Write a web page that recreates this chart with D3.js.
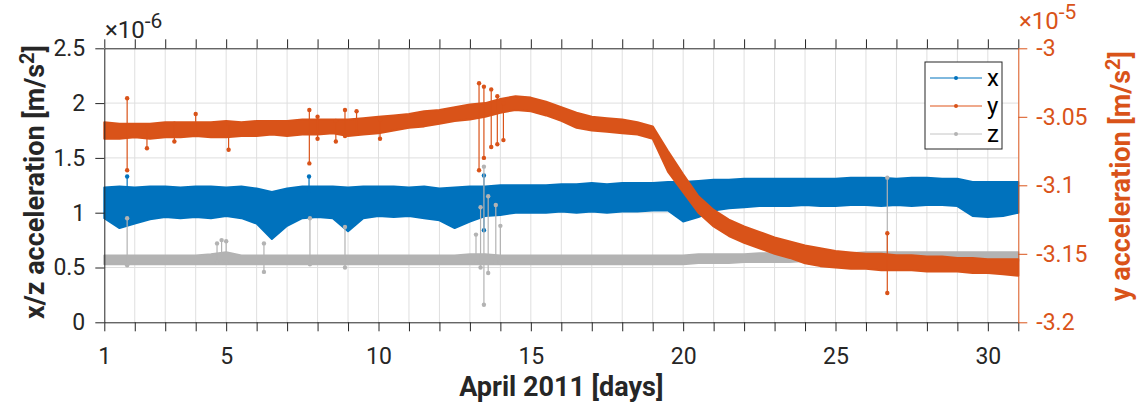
<!DOCTYPE html>
<html><head><meta charset="utf-8">
<script src="https://cdn.jsdelivr.net/npm/d3@7"></script>
<style>body{margin:0;background:#fff} svg{font-family:Roboto, "Noto Sans", sans-serif}</style>
</head><body>
<svg id="c" width="1137" height="403"></svg>
<script>
// ---- data ----
const days = [1,1.5,2,2.5,3,3.5,4,4.5,5,5.5,6,6.5,7,7.5,8,8.5,9,9.5,10,10.5,11,11.5,12,12.5,13,13.5,14,14.5,15,15.5,16,16.5,17,17.5,18,18.5,19,19.5,20,20.5,21,21.5,22,22.5,23,23.5,24,24.5,25,25.5,26,26.5,27,27.5,28,28.5,29,29.5,30,30.5,31];
// x acceleration band (x1e-6)
const xHi = [1.23,1.24,1.23,1.24,1.24,1.23,1.24,1.24,1.23,1.24,1.22,1.19,1.22,1.24,1.24,1.24,1.23,1.24,1.24,1.24,1.23,1.24,1.22,1.23,1.24,1.24,1.25,1.25,1.25,1.25,1.26,1.26,1.27,1.26,1.27,1.27,1.27,1.28,1.28,1.29,1.30,1.30,1.31,1.31,1.31,1.31,1.31,1.31,1.31,1.32,1.32,1.32,1.31,1.32,1.32,1.31,1.31,1.28,1.28,1.28,1.28];
const xLo = [0.95,0.86,0.90,0.94,0.96,0.95,0.96,0.95,0.97,0.95,0.90,0.76,0.88,0.95,0.96,0.95,0.83,0.95,0.97,0.96,0.97,0.95,0.93,0.86,0.92,0.97,0.98,1.00,1.00,1.00,1.01,1.00,1.01,1.00,1.01,1.01,1.02,1.02,0.92,0.96,1.02,1.04,1.05,1.06,1.06,1.06,1.07,1.06,1.06,1.07,1.07,1.06,1.07,1.06,1.07,1.07,1.06,0.97,0.96,0.97,1.00];
// y acceleration band (x1e-5)
const yHi = [-3.054,-3.055,-3.055,-3.055,-3.054,-3.054,-3.054,-3.054,-3.053,-3.054,-3.053,-3.053,-3.053,-3.052,-3.052,-3.052,-3.052,-3.051,-3.050,-3.049,-3.048,-3.046,-3.045,-3.043,-3.041,-3.040,-3.037,-3.035,-3.036,-3.039,-3.043,-3.047,-3.050,-3.051,-3.052,-3.054,-3.057,-3.075,-3.092,-3.108,-3.118,-3.125,-3.130,-3.134,-3.138,-3.141,-3.144,-3.146,-3.148,-3.149,-3.150,-3.150,-3.151,-3.151,-3.152,-3.152,-3.153,-3.153,-3.154,-3.154,-3.154];
const yLo = [-3.066,-3.066,-3.065,-3.066,-3.065,-3.065,-3.064,-3.065,-3.065,-3.064,-3.064,-3.063,-3.064,-3.063,-3.063,-3.062,-3.064,-3.063,-3.062,-3.060,-3.058,-3.057,-3.055,-3.053,-3.052,-3.050,-3.047,-3.045,-3.046,-3.049,-3.053,-3.058,-3.060,-3.061,-3.062,-3.063,-3.066,-3.090,-3.105,-3.120,-3.130,-3.137,-3.142,-3.146,-3.150,-3.153,-3.157,-3.159,-3.160,-3.161,-3.161,-3.162,-3.162,-3.162,-3.163,-3.163,-3.163,-3.164,-3.164,-3.165,-3.166];
// z acceleration band (x1e-6)
const zHi = [0.61,0.61,0.61,0.61,0.61,0.61,0.61,0.62,0.64,0.61,0.61,0.61,0.61,0.61,0.61,0.61,0.61,0.61,0.61,0.61,0.61,0.61,0.61,0.61,0.62,0.62,0.61,0.61,0.61,0.61,0.61,0.61,0.61,0.61,0.61,0.61,0.61,0.61,0.61,0.62,0.62,0.62,0.62,0.63,0.63,0.63,0.63,0.63,0.63,0.63,0.64,0.64,0.64,0.64,0.64,0.64,0.64,0.64,0.64,0.64,0.64];
const zLo = [0.53,0.53,0.53,0.53,0.53,0.53,0.53,0.53,0.53,0.53,0.53,0.53,0.53,0.53,0.53,0.53,0.53,0.53,0.53,0.53,0.53,0.53,0.53,0.53,0.53,0.53,0.53,0.53,0.53,0.53,0.53,0.53,0.53,0.53,0.53,0.53,0.53,0.53,0.53,0.54,0.54,0.54,0.55,0.55,0.55,0.55,0.56,0.56,0.56,0.56,0.56,0.56,0.56,0.56,0.56,0.56,0.56,0.56,0.56,0.56,0.56];
// isolated outliers: day, low, high
const xSpikeDay = [1.75,7.72,13.46];
const xSpikeLo  = [1.20,1.20,0.84];
const xSpikeHi  = [1.33,1.33,1.34];
const ySpikeDay = [1.75,2.4,3.3,4.0,5.08,7.73,8.0,8.6,8.9,9.28,10.05,13.3,13.46,13.7,13.9,14.1,26.7];
const ySpikeLo  = [-3.089,-3.073,-3.068,-3.062,-3.074,-3.084,-3.066,-3.068,-3.064,-3.062,-3.066,-3.089,-3.080,-3.072,-3.070,-3.067,-3.1786];
const ySpikeHi  = [-3.0365,-3.058,-3.055,-3.048,-3.055,-3.045,-3.050,-3.053,-3.045,-3.046,-3.052,-3.0255,-3.028,-3.030,-3.035,-3.040,-3.135];
const zSpikeDay = [1.75,4.7,4.85,5.0,6.24,7.75,8.9,13.2,13.35,13.46,13.6,13.85,14.0,26.7];
const zSpikeLo  = [0.52,0.55,0.55,0.55,0.46,0.53,0.50,0.55,0.50,0.16,0.45,0.55,0.55,0.55];
const zSpikeHi  = [0.95,0.72,0.75,0.74,0.72,0.95,0.87,0.80,1.05,1.42,1.15,1.07,0.88,1.32];
const xTickLabels = [1,5,10,15,20,25,30];
const leftTicks = [0,0.5,1,1.5,2,2.5];
const rightTicks = [-3.2,-3.15,-3.1,-3.05,-3];
const seriesNames = ["x","y","z"];

// ---- drawing ----
const C = {x:"#0072BD", y:"#D95319", z:"#B3B3B3", axis:"#262626", grid:"#DFDFDF"};
const svg = d3.select("#c");
const L = 104.3, R = 1018.3, T = 48.3, B = 322.3;
const xS = d3.scaleLinear([1,31],[L,R]);
const yL = d3.scaleLinear([0,2.5],[B,T]);
const yR = d3.scaleLinear([-3.2,-3.0],[B,T]);
const allDays = d3.range(1,32);

// grid
const g = svg.append("g");
g.selectAll("line.v").data(allDays.slice(1,-1)).join("line")
  .attr("x1",d=>xS(d)).attr("x2",d=>xS(d)).attr("y1",T).attr("y2",B)
  .attr("stroke",C.grid).attr("stroke-width",1);
g.selectAll("line.h").data(leftTicks.slice(1,-1)).join("line")
  .attr("x1",L).attr("x2",R).attr("y1",d=>yL(d)).attr("y2",d=>yL(d))
  .attr("stroke",C.grid).attr("stroke-width",1);

function band(hi, lo, ys, color){
  const data = days.map((d,i)=>({d, hi:hi[i], lo:lo[i]}));
  const area = d3.area().x(p=>xS(p.d)).y0(p=>ys(p.lo)).y1(p=>ys(p.hi));
  svg.append("path").datum(data).attr("d",area)
    .attr("fill",color).attr("stroke",color).attr("stroke-width",2).attr("stroke-linejoin","round");
}
function spikes(dd, lo, hi, ys, color){
  const s = svg.append("g");
  dd.forEach((d,i)=>{
    s.append("line").attr("x1",xS(d)).attr("x2",xS(d)).attr("y1",ys(lo[i])).attr("y2",ys(hi[i]))
      .attr("stroke",color).attr("stroke-width",1.2);
    [lo[i],hi[i]].forEach(v=>s.append("circle").attr("cx",xS(d)).attr("cy",ys(v)).attr("r",2.2).attr("fill",color));
  });
}
band(xHi,xLo,yL,C.x); spikes(xSpikeDay,xSpikeLo,xSpikeHi,yL,C.x);
band(zHi,zLo,yL,C.z); spikes(zSpikeDay,zSpikeLo,zSpikeHi,yL,C.z);
band(yHi,yLo,yR,C.y); spikes(ySpikeDay,ySpikeLo,ySpikeHi,yR,C.y);

// axes
function style(sel,color){
  sel.selectAll("path").attr("stroke",color).attr("stroke-width",1);
  sel.selectAll("line").attr("stroke",color).attr("stroke-width",1);
  sel.selectAll("text").attr("fill",color).attr("font-size",23).attr("font-family","Roboto");
}
const ax = svg.append("g").attr("transform",`translate(0,${B})`)
  .call(d3.axisBottom(xS).tickValues(allDays).tickSize(9).tickSizeOuter(0).tickPadding(16)
    .tickFormat(d=>xTickLabels.includes(d)?String(d):""));
style(ax,C.axis);
const at = svg.append("g").attr("transform",`translate(0,${T})`)
  .call(d3.axisTop(xS).tickValues(allDays).tickSize(9).tickSizeOuter(0).tickFormat(""));
style(at,C.axis);
const al = svg.append("g").attr("transform",`translate(${L},0)`)
  .call(d3.axisLeft(yL).tickValues(leftTicks).tickSize(9).tickSizeOuter(0).tickPadding(10).tickFormat(String));
style(al,C.axis);
const ar = svg.append("g").attr("transform",`translate(${R},0)`)
  .call(d3.axisRight(yR).tickValues(rightTicks).tickSize(9).tickSizeOuter(0).tickPadding(9).tickFormat(String));
style(ar,C.y);

// exponent labels
function expo(x,y,color,exp){
  const t = svg.append("text").attr("x",x).attr("y",y).attr("fill",color).attr("font-size",24);
  t.append("tspan").text("\u00d710");
  t.append("tspan").attr("dy",-10).attr("font-size",21).text(exp);
}
expo(105,38,C.axis,"-6");
expo(1019,29,C.y,"-5");

// axis titles
svg.append("text").attr("x",(L+R)/2).attr("y",396).attr("text-anchor","middle")
  .attr("font-size",27).attr("font-weight","bold").attr("fill",C.axis).text("April 2011 [days]");
const lt = svg.append("text").attr("transform","translate(44,182) rotate(-90)").attr("text-anchor","middle")
  .attr("font-size",27).attr("font-weight","bold").attr("fill",C.axis);
lt.append("tspan").text("x/z acceleration [m/s");
lt.append("tspan").attr("dy",-10).attr("font-size",20).text("2");
lt.append("tspan").attr("dy",10).text("]");
const rt = svg.append("text").attr("transform","translate(1130,176) rotate(-90)").attr("text-anchor","middle")
  .attr("font-size",27).attr("font-weight","bold").attr("fill",C.y);
rt.append("tspan").text("y acceleration [m/s");
rt.append("tspan").attr("dy",-10).attr("font-size",20).text("2");
rt.append("tspan").attr("dy",10).text("]");

// legend
const lg = svg.append("g");
lg.append("rect").attr("x",925).attr("y",62).attr("width",77).attr("height",87)
  .attr("fill","#fff").attr("stroke",C.axis).attr("stroke-width",1);
const legLine = {x:C.x, y:"#EFA98C", z:"#C4C4C4"};
seriesNames.forEach((n,i)=>{
  const yy = 78 + i*28;
  lg.append("line").attr("x1",930).attr("x2",982).attr("y1",yy).attr("y2",yy).attr("stroke",legLine[n]).attr("stroke-width",n==="y"?2:1);
  lg.append("circle").attr("cx",956).attr("cy",yy).attr("r",2).attr("fill",C[n]);
  lg.append("text").attr("x",987).attr("y",yy).attr("dy","0.35em").attr("font-size",24).attr("fill","#000").text(n);
});
</script>
</body></html>
